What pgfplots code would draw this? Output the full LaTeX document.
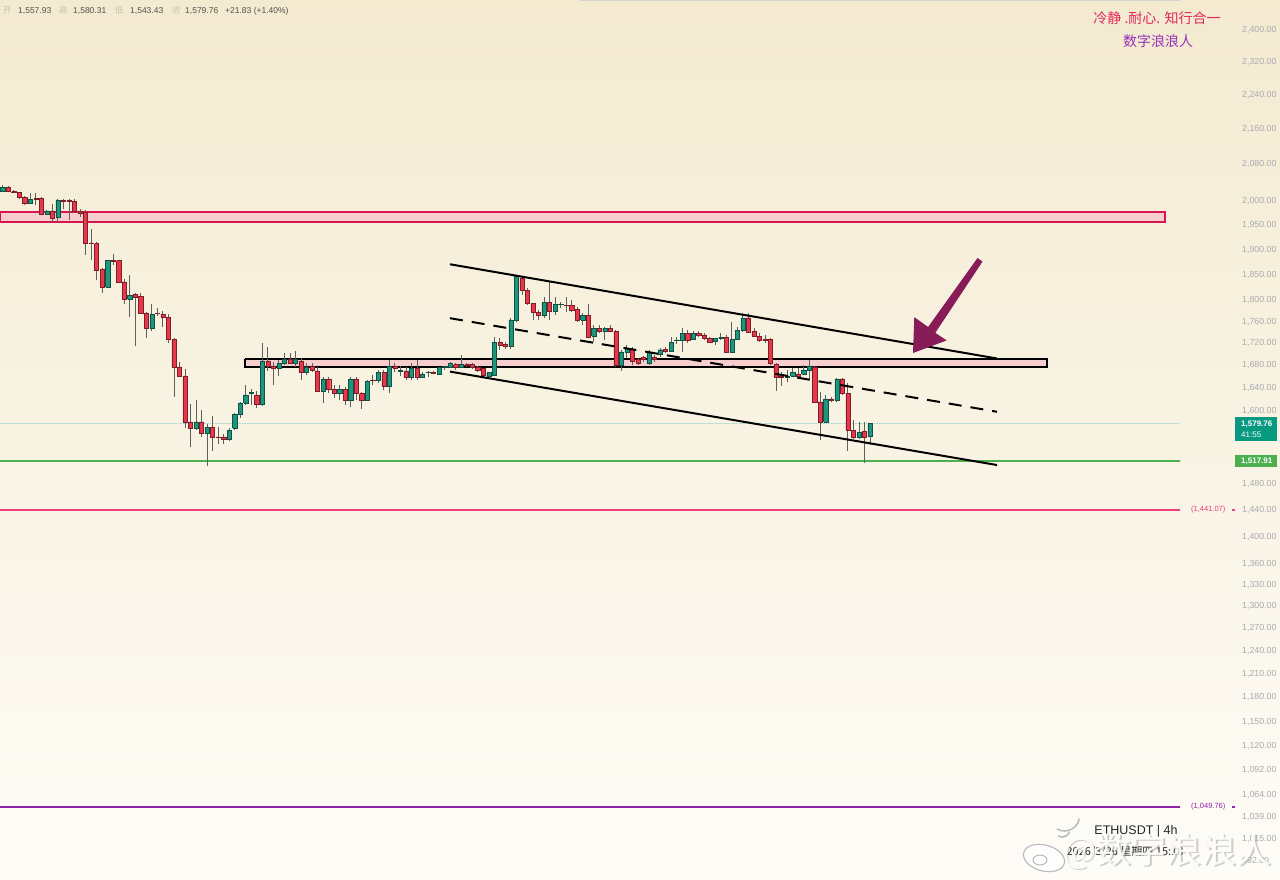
\documentclass[border=0pt]{standalone}
\usepackage{fontspec}
\setmainfont{Liberation Sans}
\newfontfamily\cjk{Noto Sans CJK SC}
\usepackage{pgfplots}
\pgfplotsset{compat=1.18}
\usepackage{pgfplotstable}
\usetikzlibrary{arrows.meta}

\definecolor{bgtop}{RGB}{243,234,208}
\definecolor{bgmid}{RGB}{248,242,226}
\definecolor{bgbot}{RGB}{254,252,247}
\definecolor{candred}{RGB}{230,55,75}
\definecolor{candgreen}{RGB}{28,150,125}
\definecolor{wickc}{RGB}{95,95,95}
\definecolor{zonepink}{RGB}{246,206,206}
\definecolor{zonered}{RGB}{218,22,82}
\definecolor{lvlgreen}{RGB}{76,175,80}
\definecolor{lvlred}{RGB}{236,64,122}
\definecolor{lvlpurple}{RGB}{142,36,170}
\definecolor{curteal}{RGB}{8,153,129}
\definecolor{tickgray}{RGB}{168,170,176}
\definecolor{arrowc}{RGB}{135,28,88}
\definecolor{titlered}{RGB}{226,40,90}
\definecolor{titlepurple}{RGB}{150,50,185}
\definecolor{hdrlight}{RGB}{200,192,178}
\definecolor{hdrdark}{RGB}{80,80,80}

\pgfplotstableread{
i O H L C
0 2021 2034 2019 2030
1 2030 2032 2019 2021
2 2021 2025 2017 2020
3 2019 2021 2006 2008
4 2009 2011 1992 1996
5 1996 2017 1995 2004
6 2006 2017 1992 2005
7 2006 2009 1971 1973
8 1973 1982 1971 1980
9 1980 1994 1957 1965
10 1967 2006 1957 2002
11 2002 2006 1984 2001
12 2002 2004 1961 2000
13 2000 2004 1976 1980
14 1980 1984 1967 1976
15 1978 1982 1890 1914
16 1914 1943 1880 1912
17 1912 1916 1840 1858
18 1860 1864 1814 1826
19 1826 1880 1824 1878
20 1878 1892 1870 1877
21 1878 1880 1834 1836
22 1836 1842 1794 1802
23 1802 1850 1768 1810
24 1812 1814 1715 1806
25 1808 1814 1774 1776
26 1776 1778 1729 1748
27 1748 1793 1742 1774
28 1776 1785 1770 1775
29 1774 1780 1750 1768
30 1768 1774 1720 1727
31 1727 1729 1625 1677
32 1677 1686 1659 1661
33 1661 1674 1571 1582
34 1582 1612 1540 1571
35 1571 1619 1569 1582
36 1582 1602 1556 1563
37 1563 1578 1509 1573
38 1573 1592 1534 1557
39 1557 1573 1545 1556
40 1557 1562 1545 1553
41 1553 1571 1550 1568
42 1571 1597 1568 1594
43 1594 1616 1589 1614
44 1614 1645 1611 1628
45 1631 1638 1611 1632
46 1628 1635 1605 1612
47 1612 1720 1609 1688
48 1688 1713 1670 1679
49 1679 1686 1645 1674
50 1674 1690 1661 1683
51 1683 1702 1681 1690
52 1690 1702 1683 1684
53 1684 1706 1677 1690
54 1688 1693 1654 1667
55 1667 1684 1663 1677
56 1679 1684 1668 1672
57 1670 1677 1633 1635
58 1635 1659 1614 1656
59 1656 1659 1631 1638
60 1638 1645 1623 1630
61 1630 1645 1619 1638
62 1638 1642 1611 1618
63 1618 1659 1607 1656
64 1656 1659 1619 1630
65 1630 1633 1604 1619
66 1619 1654 1618 1652
67 1654 1663 1645 1653
68 1654 1672 1649 1667
69 1667 1672 1636 1643
70 1643 1690 1631 1679
71 1679 1684 1668 1674
72 1670 1679 1661 1671
73 1670 1677 1654 1659
74 1659 1684 1654 1674
75 1674 1690 1654 1659
76 1659 1668 1657 1665
77 1667 1669 1659 1668
78 1668 1669 1664 1666
79 1665 1677 1663 1676
80 1677 1679 1672 1678
81 1677 1686 1676 1683
82 1681 1684 1672 1677
83 1677 1699 1676 1681
84 1681 1684 1677 1680
85 1681 1684 1674 1676
86 1676 1679 1668 1672
87 1674 1676 1659 1663
88 1661 1668 1659 1667
89 1663 1731 1661 1722
90 1722 1729 1708 1717
91 1718 1722 1710 1715
92 1715 1767 1710 1763
93 1763 1850 1759 1846
94 1844 1846 1810 1820
95 1820 1824 1791 1794
96 1794 1796 1763 1778
97 1778 1781 1763 1772
98 1772 1806 1767 1796
99 1796 1836 1763 1780
100 1780 1806 1772 1793
101 1792 1798 1785 1793
102 1791 1806 1778 1790
103 1791 1800 1778 1781
104 1783 1787 1759 1763
105 1763 1776 1754 1772
106 1772 1794 1729 1731
107 1733 1754 1722 1748
108 1748 1754 1739 1742
109 1742 1750 1726 1748
110 1748 1754 1741 1742
111 1742 1744 1677 1680
112 1680 1708 1670 1704
113 1704 1716 1693 1709
114 1709 1713 1681 1688
115 1690 1693 1681 1684
116 1695 1697 1686 1690
117 1684 1708 1681 1704
118 1695 1699 1686 1690
119 1699 1711 1695 1708
120 1709 1713 1702 1706
121 1706 1731 1704 1722
122 1725 1731 1718 1726
123 1725 1748 1704 1738
124 1738 1744 1720 1725
125 1727 1742 1725 1738
126 1738 1742 1731 1735
127 1735 1738 1725 1729
128 1729 1731 1720 1722
129 1724 1730 1716 1729
130 1729 1738 1725 1731
131 1731 1735 1702 1704
132 1704 1759 1702 1727
133 1727 1750 1725 1744
134 1744 1776 1741 1767
135 1767 1776 1739 1741
136 1742 1748 1731 1733
137 1733 1738 1722 1725
138 1727 1735 1720 1726
139 1727 1729 1681 1683
140 1681 1684 1635 1659
141 1661 1668 1643 1658
142 1659 1672 1650 1660
143 1661 1676 1659 1667
144 1665 1676 1657 1661
145 1665 1681 1663 1672
146 1672 1690 1654 1679
147 1677 1679 1614 1616
148 1616 1633 1551 1582
149 1582 1628 1580 1621
150 1621 1625 1616 1618
151 1618 1658 1616 1656
152 1656 1658 1628 1631
153 1631 1649 1533 1568
154 1568 1585 1554 1556
155 1556 1582 1554 1564
156 1566 1582 1514 1556
157 1557.93 1580.31 1543.43 1579.76
}\ohlc

\begin{document}
\begin{tikzpicture}[x=1pt,y=1pt]
\useasboundingbox (0,0) rectangle (1280,879);
\shade[top color=bgtop, middle color=bgmid, bottom color=bgbot] (0,0) rectangle (1280,879);
\draw[line width=2pt, gray!35] (580,879) -- (1180,879);
\begin{axis}[at={(0,0)}, anchor=south west,
  width=1180pt, height=879pt, scale only axis,
  xmin=-0.489, xmax=213.12,
  ymode=log, ymin=972.8, ymax=2477.8,
  axis x line=none, axis y line*=right,
  y axis line style={draw=none},
  major tick length=0pt, tick style={draw=none},
  xtick=\empty,
  ytick={992,1015,1039,1064,1092,1120,1150,1180,1210,1240,1270,1300,1330,1360,1400,1440,1480,1600,1640,1680,1720,1760,1800,1850,1900,1950,2000,2080,2160,2240,2320,2400},
  yticklabels={992.00,{1,015.00},{1,039.00},{1,064.00},{1,092.00},{1,120.00},{1,150.00},{1,180.00},{1,210.00},{1,240.00},{1,270.00},{1,300.00},{1,330.00},{1,360.00},{1,400.00},{1,440.00},{1,480.00},{1,600.00},{1,640.00},{1,680.00},{1,720.00},{1,760.00},{1,800.00},{1,850.00},{1,900.00},{1,950.00},{2,000.00},{2,080.00},{2,160.00},{2,240.00},{2,320.00},{2,400.00}},
  yticklabel style={anchor=west, inner sep=0pt, xshift=62pt, font=\fontsize{8.8}{10}\selectfont, text=tickgray},
  wick/.style={draw=wickc, line width=0.9pt},
  body/.style={fill=#1, draw=#1!55!black, line width=0.45pt},
]
% zones
\addplot[fill=zonepink, draw=zonered, line width=1.5pt] coordinates {(-0.489,1977.5) (210.41,1977.5) (210.41,1956.6) (-0.489,1956.6) (-0.489,1977.5)};
\addplot[fill=zonepink, draw=black, line width=1.5pt] coordinates {(43.86,1691.3) (189.05,1691.3) (189.05,1676.9) (43.86,1676.9) (43.86,1691.3)};
% levels
\addplot[draw=curteal!40, line width=0.6pt, densely dotted] coordinates {(-1,1579.76) (214,1579.76)};
\addplot[draw=lvlgreen, line width=2pt] coordinates {(-1,1517.91) (214,1517.91)};
\addplot[draw=lvlred, line width=2pt] coordinates {(-1,1441.07) (214,1441.07)};
\addplot[draw=lvlpurple, line width=1.8pt] coordinates {(-1,1049.76) (214,1049.76)};
% candles
\pgfplotstablegetrowsof{\ohlc}
\pgfmathtruncatemacro{\N}{\pgfplotsretval-1}
\pgfplotsforeachungrouped \r in {0,...,\N}{%
  \pgfplotstablegetelem{\r}{i}\of\ohlc \let\ci\pgfplotsretval
  \pgfplotstablegetelem{\r}{O}\of\ohlc \let\co\pgfplotsretval
  \pgfplotstablegetelem{\r}{H}\of\ohlc \let\ch\pgfplotsretval
  \pgfplotstablegetelem{\r}{L}\of\ohlc \let\cl\pgfplotsretval
  \pgfplotstablegetelem{\r}{C}\of\ohlc \let\cc\pgfplotsretval
  \pgfmathsetmacro{\xa}{\ci-0.38}%
  \pgfmathsetmacro{\xb}{\ci+0.38}%
  \ifdim\cc pt<\co pt \def\col{candred}\else\def\col{candgreen}\fi
  \edef\tmp{\noexpand\addplot[wick] coordinates {(\ci,\cl) (\ci,\ch)};
    \noexpand\addplot[body=\col] coordinates {(\xa,\co) (\xb,\co) (\xb,\cc) (\xa,\cc) (\xa,\co)};}%
  \tmp
}
% channel
\addplot[draw=black, line width=2pt] coordinates {(80.97,1870.7) (180.0,1692.1)};
\addplot[draw=black, line width=2pt] coordinates {(80.97,1668.7) (180.0,1510.9)};
\addplot[draw=black, line width=2pt, dash pattern=on 13pt off 9pt] coordinates {(80.97,1766.3) (180.0,1599.0)};
\end{axis}
\begin{scope}[shift={(0,879)}, y=-1pt]
  % arrow (pointing down-left)
  \fill[arrowc] (977.5,258.0) -- (928.1,327.0) -- (914.3,317.1) -- (913,353) -- (946.7,340.4) -- (935.3,332.8) -- (982.5,261.6) -- cycle;
  % header
  \begin{scope}[font=\fontsize{8.5}{10}\selectfont]
  \node[anchor=base west, inner sep=0pt, text=hdrlight] at (3,14) {\cjk 开};
  \node[anchor=base west, inner sep=0pt, text=hdrdark] at (18,14) {1,557.93};
  \node[anchor=base west, inner sep=0pt, text=hdrlight] at (59,14) {\cjk 高};
  \node[anchor=base west, inner sep=0pt, text=hdrdark] at (73,14) {1,580.31};
  \node[anchor=base west, inner sep=0pt, text=hdrlight] at (115,14) {\cjk 低};
  \node[anchor=base west, inner sep=0pt, text=hdrdark] at (130,14) {1,543.43};
  \node[anchor=base west, inner sep=0pt, text=hdrlight] at (172,14) {\cjk 收};
  \node[anchor=base west, inner sep=0pt, text=hdrdark] at (185,14) {1,579.76};
  \node[anchor=base west, inner sep=0pt, text=hdrdark] at (225,14) {+21.83 (+1.40\%)};
  \end{scope}
  % title
  \node[text=titlered, font=\cjk\fontsize{14}{16}\selectfont] at (1157,18) {冷静 .耐心. 知行合一};
  \node[text=titlepurple, font=\cjk\fontsize{14}{16}\selectfont] at (1158,41) {数字浪浪人};
  % price labels
  \fill[curteal] (1235,417) rectangle (1277,441);
  \node[anchor=west, inner sep=0pt, text=white, font=\bfseries\fontsize{8}{9}\selectfont] at (1241,424) {1,579.76};
  \node[anchor=west, inner sep=0pt, text=white, font=\fontsize{8}{9}\selectfont] at (1241,435) {41:55};
  \fill[lvlgreen] (1235,455) rectangle (1277,467);
  \node[anchor=west, inner sep=0pt, text=white, font=\bfseries\fontsize{8}{9}\selectfont] at (1241,461) {1,517.91};
  \node[anchor=west, inner sep=0pt, text=lvlred, font=\fontsize{7.5}{9}\selectfont] at (1191,510) {(1,441.07)};
  \draw[lvlred, line width=1.2pt] (1232,510) -- (1235,510);
  \node[anchor=west, inner sep=0pt, text=lvlpurple, font=\fontsize{7.5}{9}\selectfont] at (1191,807) {(1,049.76)};
  \draw[lvlpurple, line width=1.2pt] (1232,807) -- (1235,807);
  % bottom right
  \node[text=black!85, font=\fontsize{12.5}{14}\selectfont] at (1136,831) {ETHUSDT \textbar\ 4h};
  \node[text=black!85, font=\cjk\fontsize{11}{13}\selectfont] at (1125,852) {2026/3/26 星期四 15:18};
  % watermark
  \node[text=gray!75, opacity=0.5, font=\cjk\fontsize{35}{38}\selectfont] at (1169,853) {@数字浪浪人};
  \node[text=white, opacity=0.9, font=\cjk\fontsize{35}{38}\selectfont] at (1167.5,851.5) {@数字浪浪人};
  \draw[gray!60, fill=white, opacity=0.85, line width=1.2pt, rotate around={-15:(1044,858)}] (1044,858) ellipse (21 and 13);
  \draw[gray!60, fill=white, opacity=0.9, line width=1pt] (1040,860) ellipse (7 and 5);
  \draw[gray!55, line width=1.5pt] (1058,836) arc (120:20:8);
  \draw[gray!55, line width=1.5pt] (1057,829) arc (120:10:15);
\end{scope}
\end{tikzpicture}
\end{document}
